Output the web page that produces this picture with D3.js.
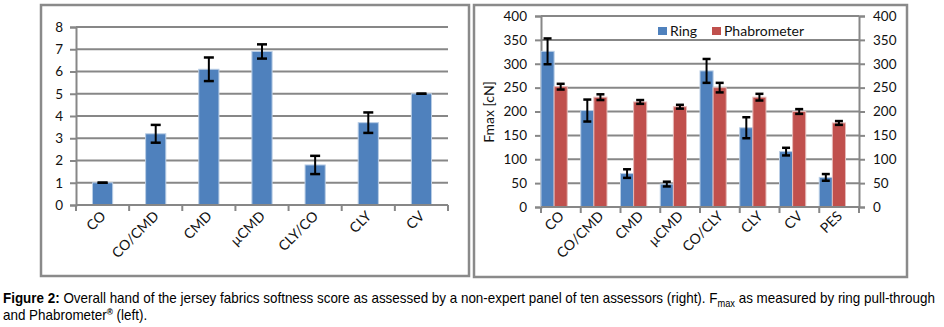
<!DOCTYPE html>
<html lang="en">
<head>
    <meta charset="UTF-8">
    <title>Fmax and softness</title>
    <script src="https://cdn.jsdelivr.net/npm/d3@7"></script>
    <style>
        body { margin: 0; background: #fff; }
        .axis text { font-family: Lato, sans-serif; font-size: 13.5px; fill: #111; }
        .axis path, .axis line { stroke: #878787; stroke-width: 2; }
    </style>
</head>
<body>
<script>
    // left panel: softness score
    let scoreCats = ["CO", "CO/CMD", "CMD", "\u00b5CMD", "CLY/CO", "CLY", "CV"];
    let scoreVals = [1.0, 3.2, 6.1, 6.9, 1.8, 3.7, 5.0];
    let scoreErr = [0.0, 0.4, 0.53, 0.32, 0.41, 0.46, 0.0];
    let scoreTicks = [0, 1, 2, 3, 4, 5, 6, 7, 8];

    // right panel: Fmax
    let fmaxCats = ["CO", "CO/CMD", "CMD", "\u00b5CMD", "CO/CLY", "CLY", "CV", "PES"];
    let seriesNames = ["Ring", "Phabrometer"];
    let ringVals = [326, 202, 70, 48, 285, 166, 116, 62];
    let ringErr = [27, 23, 9, 5, 25, 22, 8, 7];
    let phabVals = [252, 230, 220, 210, 250, 230, 200, 176];
    let phabErr = [6, 6, 4, 4, 10, 7, 5, 4];
    let fmaxTicks = [0, 50, 100, 150, 200, 250, 300, 350, 400];

    let colors = {Ring: "#4f81bd", Phabrometer: "#c0504d"};
    let gridColor = "#878787";

    let svg = d3.select("body").append("svg")
        .attr("width", 944)
        .attr("height", 327);

    // panel frames
    svg.append("rect").attr("x", 41).attr("y", 5).attr("width", 428).attr("height", 271)
        .attr("fill", "none").attr("stroke", "#8a8a8a").attr("stroke-width", 2.5);
    svg.append("rect").attr("x", 474).attr("y", 5).attr("width", 433).attr("height", 272)
        .attr("fill", "none").attr("stroke", "#8a8a8a").attr("stroke-width", 2.5);

    function drawErr(g, cx, yTop, yBot, cap) {
        g.append("line").attr("x1", cx).attr("x2", cx).attr("y1", yTop).attr("y2", yBot)
            .attr("stroke", "#000").attr("stroke-width", 2);
        [yTop, yBot].forEach(function (yy) {
            g.append("line").attr("x1", cx - cap / 2).attr("x2", cx + cap / 2)
                .attr("y1", yy).attr("y2", yy)
                .attr("stroke", "#000").attr("stroke-width", 2.5);
        });
    }

    function xLabels(g, xScale, yPos) {
        xScale.domain().forEach(function (c) {
            g.append("text")
                .attr("transform", "translate(" + (xScale(c) + xScale.bandwidth() / 2 + 4) + "," + yPos + ") rotate(-45)")
                .attr("text-anchor", "end")
                .attr("font-family", "Lato, sans-serif")
                .attr("font-size", "14px")
                .attr("fill", "#111")
                .text(c);
        });
    }

    function bandTicks(g, xScale, y0) {
        let edges = xScale.domain().map(function (c) { return xScale(c); });
        edges.push(xScale.range()[1]);
        edges.forEach(function (ex) {
            g.append("line").attr("x1", ex).attr("x2", ex).attr("y1", y0).attr("y2", y0 + 6)
                .attr("stroke", gridColor).attr("stroke-width", 2);
        });
        g.append("line").attr("x1", xScale.range()[0]).attr("x2", xScale.range()[1])
            .attr("y1", y0).attr("y2", y0).attr("stroke", gridColor).attr("stroke-width", 2);
    }

    // ---------- left chart ----------
    let L = svg.append("g");
    let xL = d3.scaleBand().domain(scoreCats).range([76, 448]).padding(0);
    let yL = d3.scaleLinear().domain([0, 8]).range([205, 27]);

    L.selectAll(".grid").data(scoreTicks.slice(1)).enter().append("line")
        .attr("x1", 76).attr("x2", 448)
        .attr("y1", function (d) { return yL(d); }).attr("y2", function (d) { return yL(d); })
        .attr("stroke", gridColor).attr("stroke-width", 2);

    L.append("g").attr("class", "axis")
        .attr("transform", "translate(76,0)")
        .call(d3.axisLeft(yL).tickValues(scoreTicks).tickSize(6).tickPadding(7));

    let bwL = xL.bandwidth() * 0.38;
    L.selectAll(".bar").data(scoreCats).enter().append("rect")
        .attr("x", function (c) { return xL(c) + (xL.bandwidth() - bwL) / 2; })
        .attr("y", function (c, i) { return yL(scoreVals[i]); })
        .attr("width", bwL)
        .attr("height", function (c, i) { return yL(0) - yL(scoreVals[i]); })
        .attr("fill", colors.Ring)
        .attr("stroke", "#b9cde5").attr("stroke-width", 1);

    bandTicks(L, xL, 205);

    scoreCats.forEach(function (c, i) {
        let cx = xL(c) + xL.bandwidth() / 2;
        drawErr(L, cx, yL(scoreVals[i] + scoreErr[i]), yL(scoreVals[i] - scoreErr[i]), 10);
    });

    xLabels(L, xL, 217);

    // ---------- right chart ----------
    let R = svg.append("g");
    let xR = d3.scaleBand().domain(fmaxCats).range([541, 859]).padding(0);
    let xS = d3.scaleBand().domain(seriesNames).range([0, xR.bandwidth() * 0.66]).padding(0);
    let yR = d3.scaleLinear().domain([0, 400]).range([207, 16]);

    R.selectAll(".grid").data(fmaxTicks.slice(1)).enter().append("line")
        .attr("x1", 541).attr("x2", 859)
        .attr("y1", function (d) { return yR(d); }).attr("y2", function (d) { return yR(d); })
        .attr("stroke", gridColor).attr("stroke-width", 2);

    R.append("g").attr("class", "axis")
        .attr("transform", "translate(541,0)")
        .call(d3.axisLeft(yR).tickValues(fmaxTicks).tickSize(6).tickPadding(8));
    R.append("g").attr("class", "axis")
        .attr("transform", "translate(859,0)")
        .call(d3.axisRight(yR).tickValues(fmaxTicks).tickSize(6).tickPadding(8));

    let seriesData = [
        {name: "Ring", vals: ringVals, err: ringErr},
        {name: "Phabrometer", vals: phabVals, err: phabErr}
    ];

    seriesData.forEach(function (s) {
        R.selectAll(".bar-" + s.name).data(fmaxCats).enter().append("rect")
            .attr("x", function (c) { return xR(c) + xS(s.name); })
            .attr("y", function (c, i) { return yR(s.vals[i]); })
            .attr("width", xS.bandwidth())
            .attr("height", function (c, i) { return yR(0) - yR(s.vals[i]); })
            .attr("fill", colors[s.name])
            .attr("stroke", s.name === "Ring" ? "#b9cde5" : "#e6b9b8").attr("stroke-width", 1);
    });

    bandTicks(R, xR, 207);

    seriesData.forEach(function (s) {
        fmaxCats.forEach(function (c, i) {
            let cx = xR(c) + xS(s.name) + xS.bandwidth() / 2;
            drawErr(R, cx, yR(s.vals[i] + s.err[i]), yR(s.vals[i] - s.err[i]), 8);
        });
    });

    xLabels(R, xR, 217);

    // y axis title
    R.append("text")
        .attr("transform", "translate(494,112) rotate(-90)")
        .attr("text-anchor", "middle")
        .attr("font-family", "Lato, sans-serif")
        .attr("font-size", "14px")
        .attr("fill", "#111")
        .text("Fmax [cN]");

    // legend
    let legendX = [658, 712];
    seriesNames.forEach(function (n, i) {
        R.append("rect").attr("x", legendX[i]).attr("y", 27).attr("width", 9).attr("height", 8)
            .attr("fill", colors[n]);
        R.append("text").attr("x", legendX[i] + 12).attr("y", 36)
            .attr("font-family", "Lato, sans-serif")
            .attr("font-size", "14px")
            .attr("fill", "#111")
            .text(n);
    });

    // ---------- caption ----------
    let cap1 = svg.append("text")
        .attr("x", 0).attr("y", 0)
        .attr("font-family", "'Liberation Sans', Arial, sans-serif")
        .attr("font-size", "14.5px")
        .attr("fill", "#000");
    cap1.append("tspan").attr("font-weight", "bold").text("Figure 2:");
    cap1.append("tspan").text(" Overall hand of the jersey fabrics softness score as assessed by a non-expert panel of ten assessors (right). F");
    cap1.append("tspan").attr("font-size", "10px").attr("dy", 4).text("max");
    cap1.append("tspan").attr("dy", -4).text(" as measured by ring pull-through");

    let cap2 = svg.append("text")
        .attr("x", 0).attr("y", 0)
        .attr("font-family", "'Liberation Sans', Arial, sans-serif")
        .attr("font-size", "14.5px")
        .attr("fill", "#000");
    cap2.append("tspan").text("and Phabrometer");
    cap2.append("tspan").attr("font-size", "9px").attr("font-weight", "bold").attr("dy", -5).text("\u00ae");
    cap2.append("tspan").attr("dy", 5).text(" (left).");

    let w1 = cap1.node().getBBox().width;
    let sx = 932 / w1;
    cap1.attr("transform", "translate(3,303) scale(" + sx + ",1)");
    cap2.attr("transform", "translate(3,320) scale(" + sx + ",1)");
</script>
</body>
</html>
